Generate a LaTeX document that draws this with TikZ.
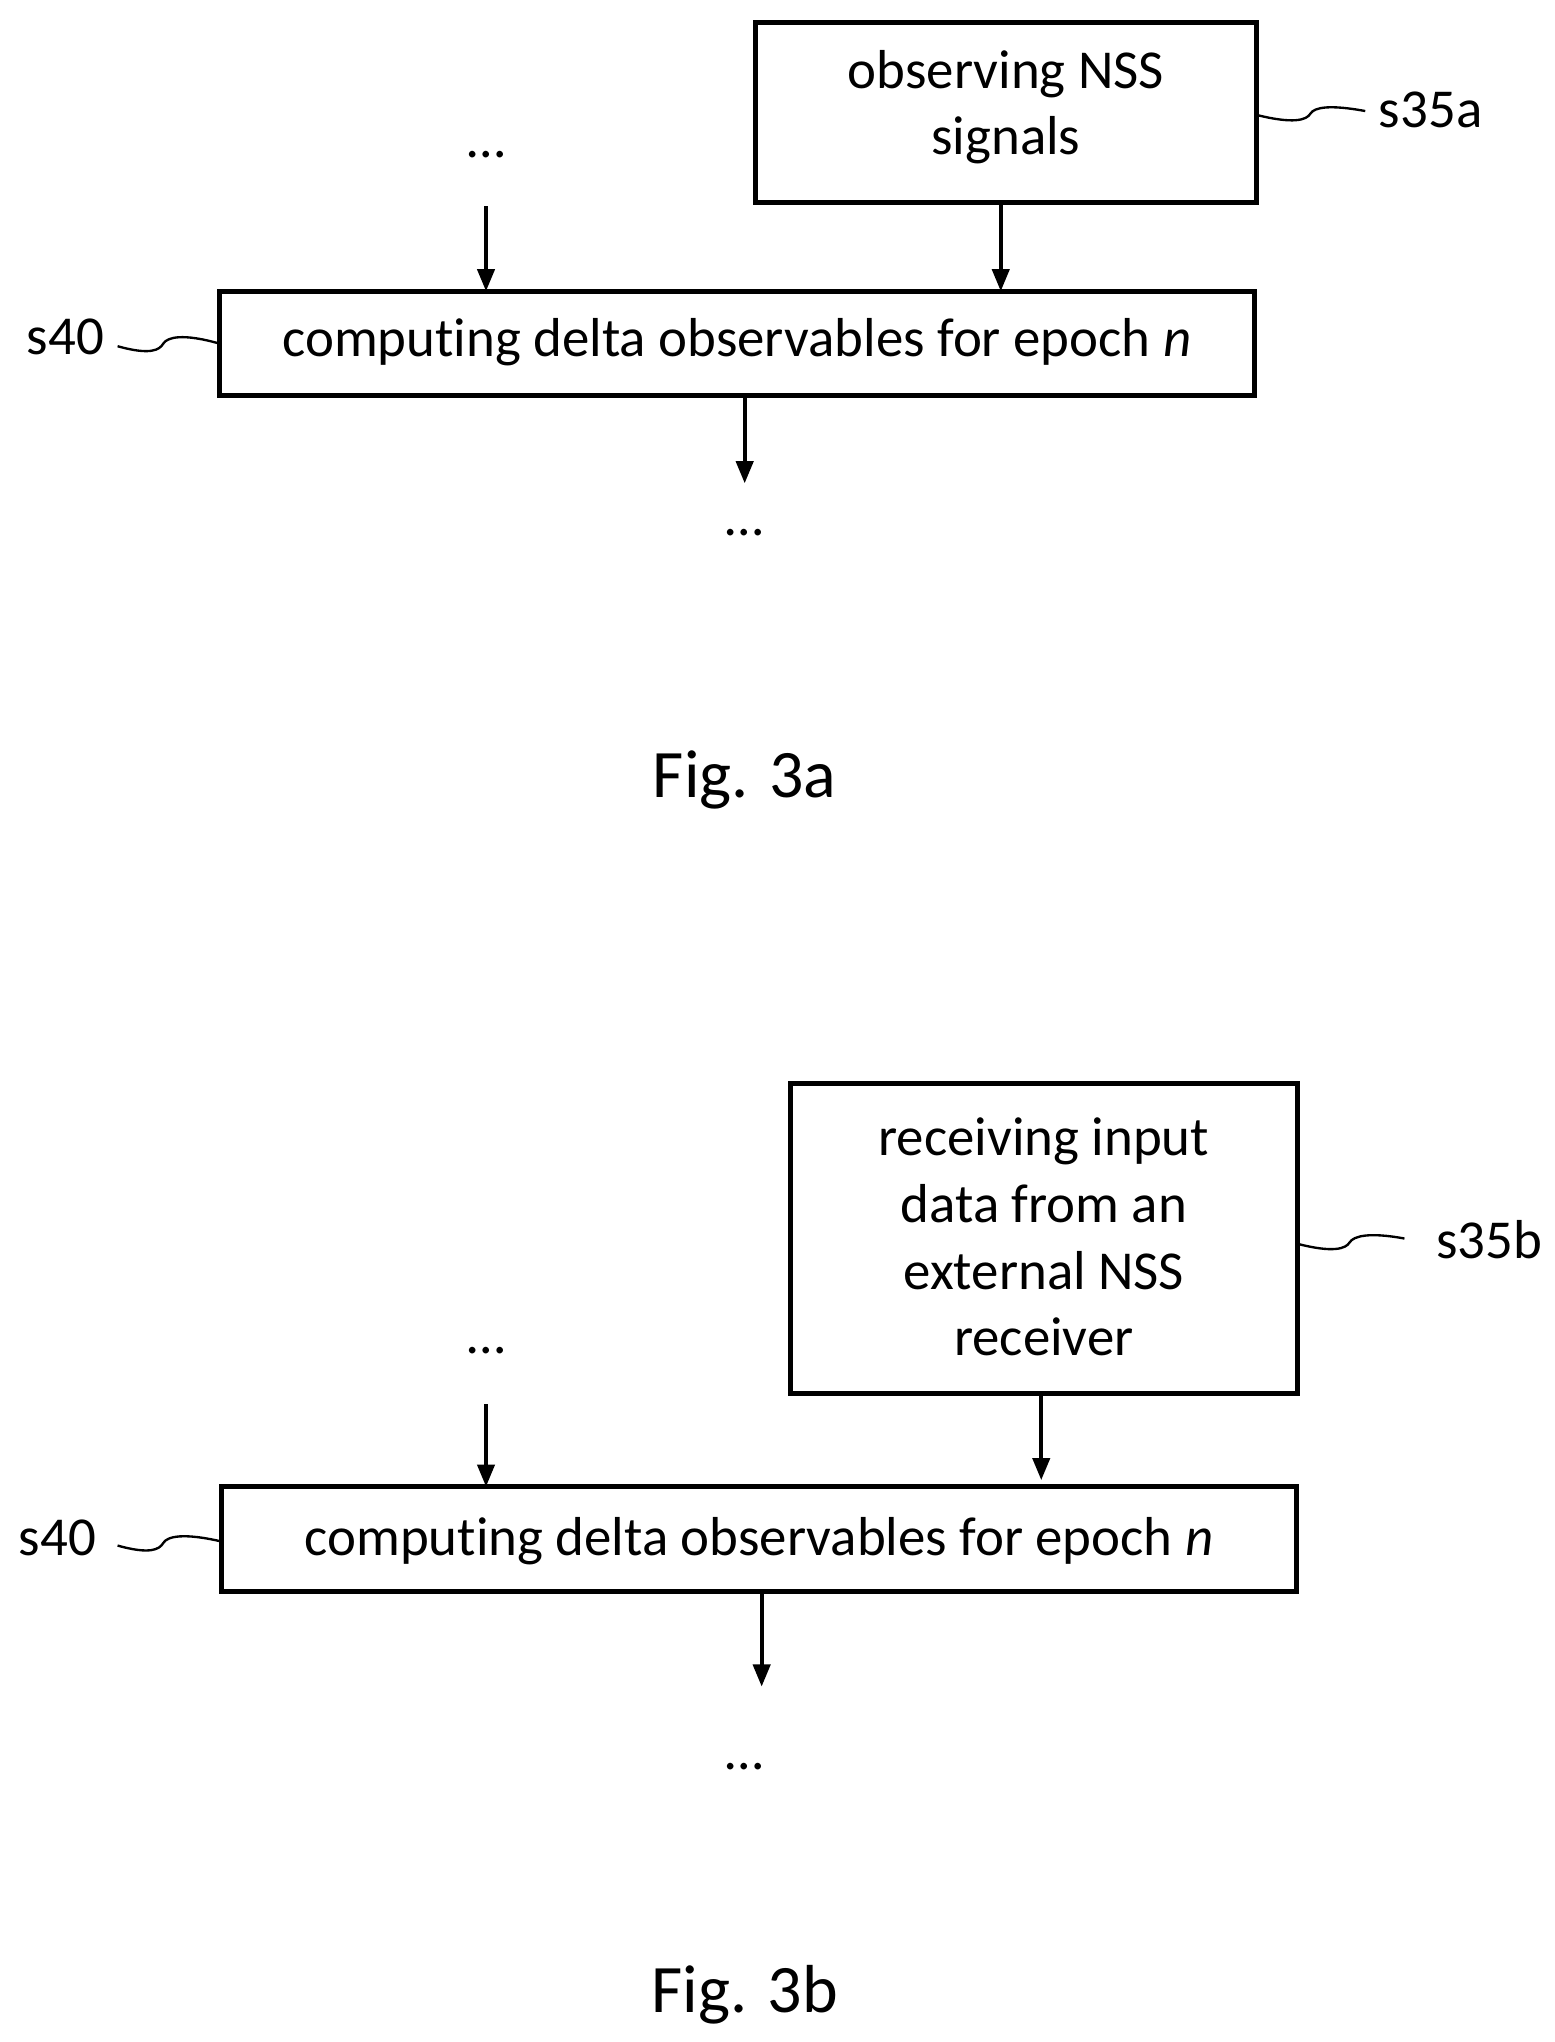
\documentclass[tikz,border=0pt]{standalone}
\usepackage{fontspec}
\setmainfont[Ligatures=NoCommon]{Carlito}
\usetikzlibrary{arrows.meta}
\begin{document}
\begin{tikzpicture}[x=1pt,y=-1pt,
 box/.style={draw,line width=4pt,inner sep=0pt},
 txt/.style={font=\fontsize{42}{51}\selectfont,align=center},
 arr/.style={line width=3.2pt,-{Triangle[length=17pt,width=13pt]}},
 sq/.style={line width=1.8pt}]
\useasboundingbox (0,0) rectangle (1190,1563);
% Fig 3a
\node[box,minimum width=384pt,minimum height=138pt] (b1) at (770,86) {};
\node[txt] (t1) at (770,82) {observing NSS\\signals};
\node[box,minimum width=792pt,minimum height=80pt] (b2) at (564,263) {};
\node[txt] (t2) at (564,262) {computing delta observables for epoch \textit{n}};
\node[txt] (d1) at (372,118) {\dots};
\coordinate (a1s) at (372,158); \coordinate (a1e) at (372,223);
\draw[arr] (a1s) -- (a1e);
\draw[arr] (766,155) coordinate(r1) -- (766,223) coordinate(r1e);
\draw[arr] (570,303) coordinate(c1) -- (570,370) coordinate(c1e);
\node[txt] (d2) at (570,408) {\dots};
\node[txt] (l1) at (50,258) {s40};
\node[txt] (l2) at (1095,84) {s35a};
\draw[sq] (90,265) .. controls (115,272) and (122,268) .. (125,263) .. controls (128,258) and (140,255) .. (168,263);
\draw[sq] (962,88) .. controls (990,95) and (1000,92) .. (1003,87) .. controls (1006,82) and (1018,80) .. (1045,85);
\node[font=\fontsize{52}{60}\selectfont] (f1) at (570,597) {Fig. 3a};
% Fig 3b
\node[box,minimum width=388pt,minimum height=237pt] (b3) at (799,948) {};
\node[txt] (t3) at (799,947) {receiving input\\data from an\\external NSS\\receiver};
\node[box,minimum width=823pt,minimum height=80pt] (b4) at (581,1178) {};
\node[txt] (t4) at (581,1180) {computing delta observables for epoch \textit{n}};
\node[txt] (d3) at (372,1034) {\dots};
\draw[arr] (372,1075) coordinate(a2s) -- (372,1138) coordinate(a2e);
\draw[arr] (797,1067) coordinate(r2) -- (797,1133) coordinate(r2e);
\draw[arr] (583,1218) coordinate(c2) -- (583,1291) coordinate(c2e);
\node[txt] (d4) at (570,1352) {\dots};
\node[txt] (l3) at (44,1177) {s40};
\node[txt] (l4) at (1140,949) {s35b};
\draw[sq] (90,1183) .. controls (115,1190) and (122,1186) .. (125,1181) .. controls (128,1176) and (140,1173) .. (170,1180);
\draw[sq] (993,952) .. controls (1020,959) and (1030,956) .. (1033,951) .. controls (1036,946) and (1048,943) .. (1075,948);
\node[font=\fontsize{52}{60}\selectfont] (f2) at (570,1527) {Fig. 3b};
\end{tikzpicture}
\end{document}
